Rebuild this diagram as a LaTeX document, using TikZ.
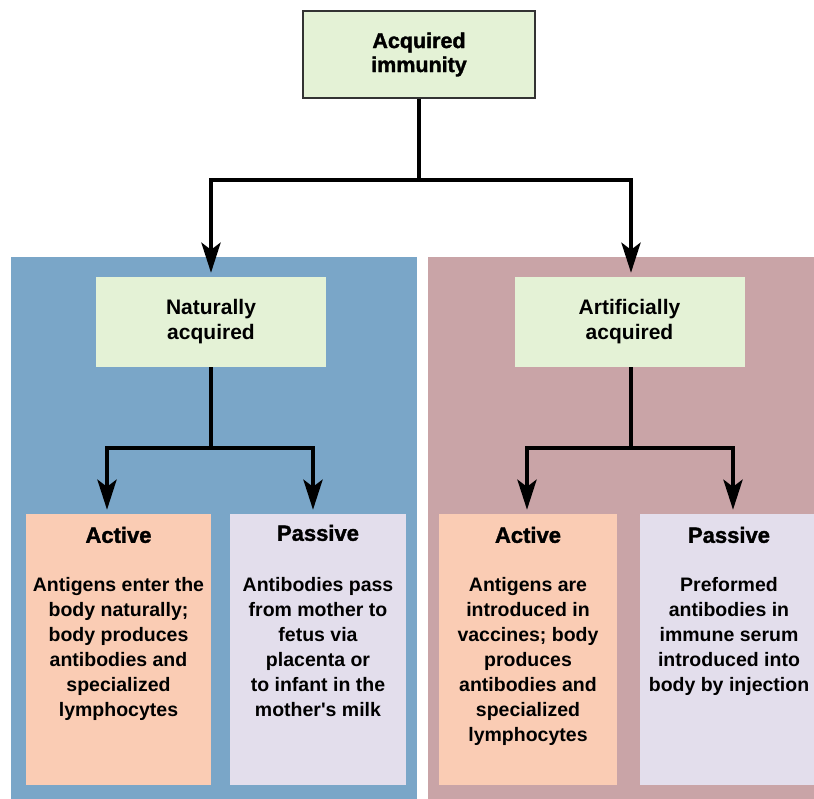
\documentclass[tikz,border=0pt]{standalone}
\usepackage{fontspec}
\setmainfont{Liberation Sans}
\newfontfamily\heavyfont[FakeBold=1.6]{Liberation Sans Bold}
\usetikzlibrary{arrows.meta,positioning}
\definecolor{panelblue}{RGB}{122,166,200}
\definecolor{panelrose}{RGB}{201,164,167}
\definecolor{boxgreen}{RGB}{228,242,214}
\definecolor{boxsalmon}{RGB}{250,204,180}
\definecolor{boxlilac}{RGB}{227,222,236}

\begin{document}
\begin{tikzpicture}[x=1pt,y=-1pt,
  topbox/.style={draw=black!80,line width=1.5pt,fill=boxgreen,minimum width=232pt,minimum height=87pt,align=center,
    font={\heavyfont\fontsize{21.5}{24}\selectfont}},
  midbox/.style={fill=boxgreen,minimum width=230pt,minimum height=90pt,align=center,
    font={\bfseries\fontsize{21}{25}\selectfont}},
  leafbox/.style={minimum height=271pt,inner sep=0pt},
  head/.style={anchor=base,font={\heavyfont\fontsize{22}{26}\selectfont}},
  body/.style={anchor=north,align=center,inner sep=0pt,font={\bfseries\fontsize{19.5}{25}\selectfont}},
  stem/.style={line width=4.5pt},
  link/.style={line width=4.5pt,-{Stealth[length=30pt,width=19pt,inset=7pt]},shorten >=4pt}]
\useasboundingbox (0,0) rectangle (814,799);
\fill[panelblue] (11,257) rectangle (417,799);
\fill[panelrose] (428,257) rectangle (814,799);

\node[topbox] (acq) at (419,54.5) {Acquired\\immunity};
\node[midbox] (nat) at (211,322) {Naturally\\acquired};
\node[midbox] (art) at (629.5,322) {Artificially\\acquired};

\node[leafbox,fill=boxsalmon,minimum width=185pt] (natact) at (118.5,649.5) {};
\node[leafbox,fill=boxlilac,minimum width=176pt] (natpas) at (318,649.5) {};
\node[leafbox,fill=boxsalmon,minimum width=178pt] (artact) at (528,649.5) {};
\node[leafbox,fill=boxlilac,minimum width=174pt] (artpas) at (727,649.5) {};

\node[head] (natacthead) at ([yshift=-29pt]natact.north) {Active};
\node[body] (natactbody) at ([yshift=-63.5pt]natact.north) {Antigens enter the\\body naturally;\\body produces\\antibodies and\\specialized\\lymphocytes};
\node[head] (natpashead) at ([yshift=-27pt]natpas.north) {Passive};
\node[body] (natpasbody) at ([yshift=-63pt]natpas.north) {Antibodies pass\\from mother to\\fetus via\\placenta or\\to infant in the\\mother\textquotesingle s milk};
\node[head] (artacthead) at ([yshift=-29pt]artact.north) {Active};
\node[body] (artactbody) at ([yshift=-63.5pt]artact.north) {Antigens are\\introduced in\\vaccines; body\\produces\\antibodies and\\specialized\\lymphocytes};
\node[head] (artpashead) at ([xshift=2pt,yshift=-29pt]artpas.north) {Passive};
\node[body] (artpasbody) at ([xshift=2pt,yshift=-63.5pt]artpas.north) {Preformed\\antibodies in\\immune serum\\introduced into\\body by injection};

\coordinate (acqsplit) at (acq.south |- 0,180);
\draw[stem] (acq.south) -- (acqsplit);
\draw[link] (acqsplit) -| (nat.north);
\draw[link] (acqsplit) -| ([xshift=1.5pt]art.north);

\coordinate (natsplit) at (nat.south |- 0,448);
\draw[stem] (nat.south) -- (natsplit);
\draw[link] (natsplit) -| ([xshift=-11.5pt]natact.north);
\draw[link] (natsplit) -| ([xshift=-5pt]natpas.north);

\coordinate (artsplit) at ([xshift=1.5pt]art.south |- 0,448);
\draw[stem] ([xshift=1.5pt]art.south) -- (artsplit);
\draw[link] (artsplit) -| ([xshift=-1pt]artact.north);
\draw[link] (artsplit) -| ([xshift=6pt]artpas.north);
\end{tikzpicture}
\end{document}
